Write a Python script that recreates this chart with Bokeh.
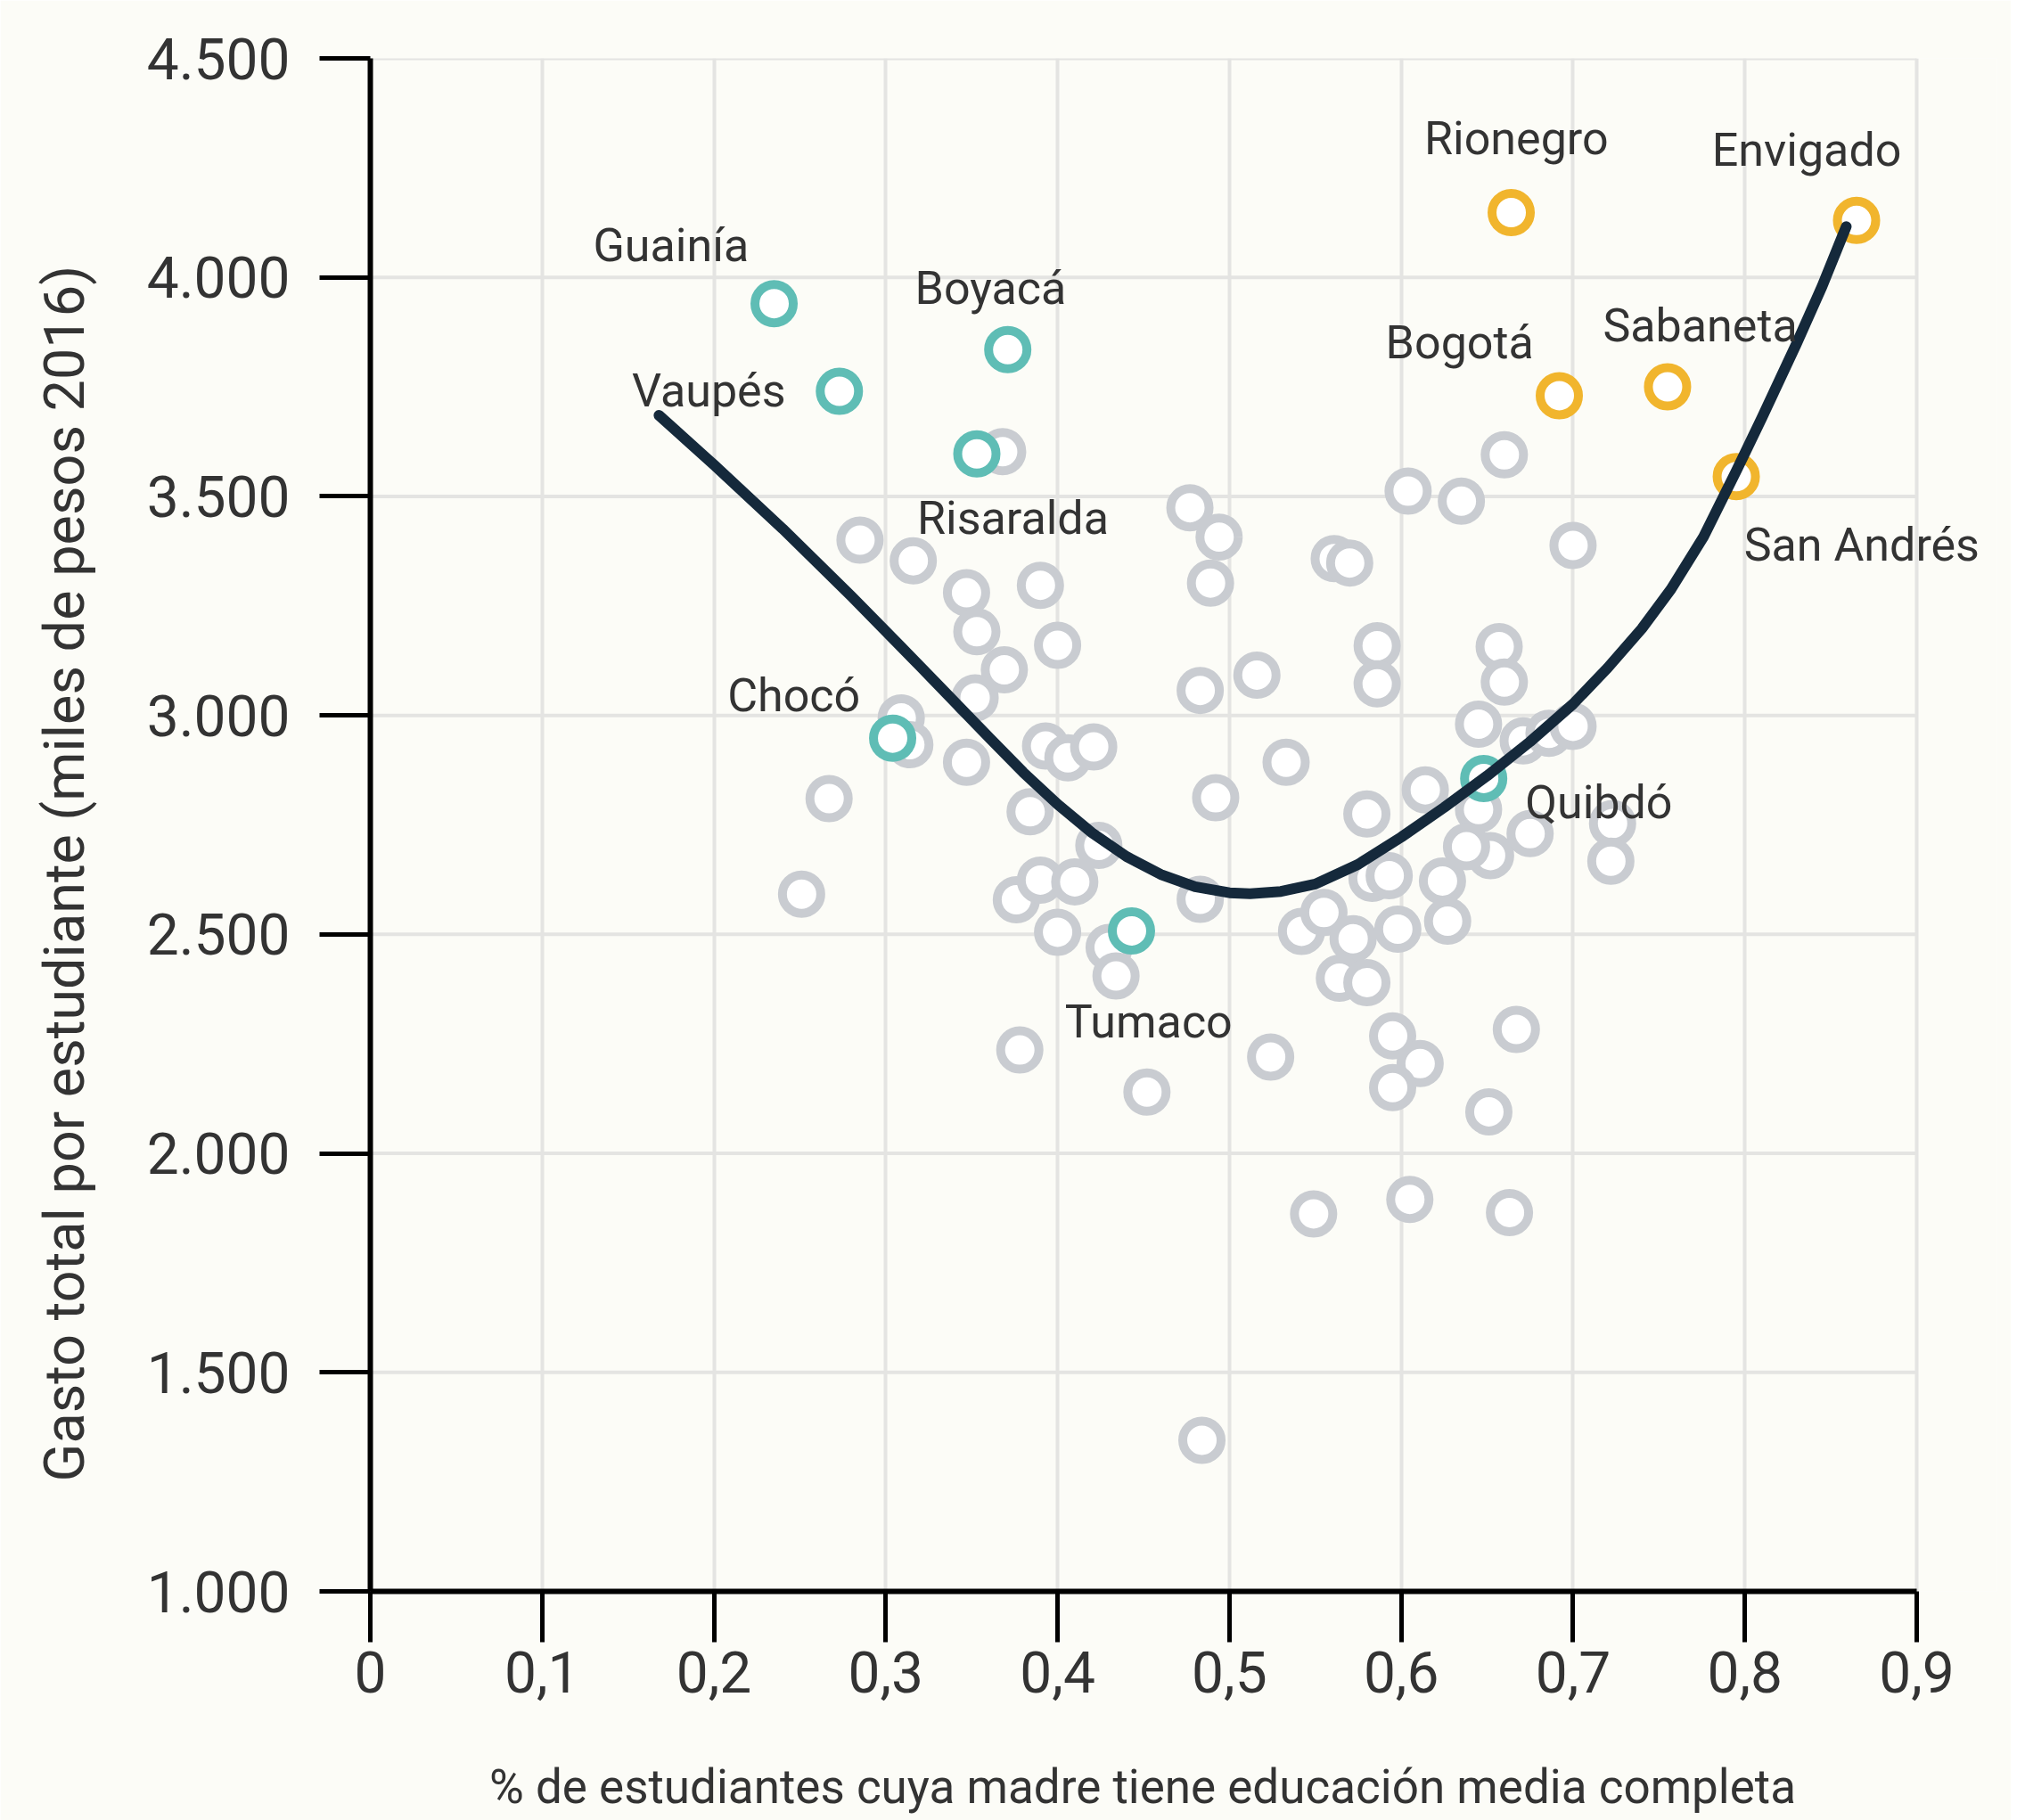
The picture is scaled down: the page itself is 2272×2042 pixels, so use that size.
from bokeh.plotting import figure
from bokeh.models import Range1d, FixedTicker, LabelSet, ColumnDataSource
from bokeh.core.properties import value
from bokeh.embed import file_html
from bokeh.resources import INLINE

# ---------------- data ----------------
gray_x = [0.368, 0.285, 0.316, 0.347, 0.390, 0.353, 0.400, 0.369, 0.352, 0.477, 0.494, 0.489, 0.483, 0.516,
          0.604, 0.635, 0.660, 0.700, 0.561, 0.570, 0.586, 0.586, 0.657, 0.660, 0.645, 0.671, 0.686, 0.700,
          0.309, 0.314, 0.347, 0.393, 0.406, 0.421, 0.533, 0.492, 0.267, 0.384, 0.424, 0.251, 0.376, 0.390,
          0.410, 0.400, 0.483, 0.430, 0.434, 0.378, 0.452, 0.524, 0.484,
          0.542, 0.555, 0.572, 0.564, 0.580, 0.598, 0.580, 0.614, 0.583, 0.593, 0.624, 0.627, 0.645, 0.652,
          0.675, 0.638, 0.723, 0.722, 0.595, 0.611, 0.595, 0.667, 0.651, 0.549, 0.605, 0.663]
gray_y = [3602, 3400, 3353, 3280, 3297, 3191, 3160, 3104, 3040, 3474, 3407, 3302, 3057, 3092,
          3512, 3489, 3595, 3388, 3358, 3348, 3159, 3072, 3157, 3076, 2980, 2942, 2959, 2975,
          2994, 2933, 2893, 2930, 2903, 2928, 2893, 2812, 2810, 2780, 2703, 2592, 2579, 2624,
          2620, 2505, 2580, 2470, 2405, 2236, 2140, 2220, 1345,
          2507, 2550, 2490, 2400, 2390, 2512, 2775, 2830, 2628, 2634, 2622, 2530, 2785, 2680,
          2730, 2700, 2753, 2667, 2268, 2205, 2150, 2283, 2095, 1862, 1895, 1865]

teal_names = ["Guainía", "Vaupés", "Boyacá", "Risaralda", "Chocó", "Tumaco", "Quibdó"]
teal_x = [0.235, 0.273, 0.371, 0.353, 0.304, 0.443, 0.648]
teal_y = [3940, 3740, 3835, 3597, 2948, 2508, 2856]

gold_names = ["Rionegro", "Envigado", "Bogotá", "Sabaneta", "San Andrés"]
gold_x = [0.664, 0.865, 0.692, 0.755, 0.795]
gold_y = [4148, 4130, 3730, 3750, 3545]

curve_x = [0.168, 0.20, 0.24, 0.28, 0.32, 0.36, 0.38, 0.40, 0.42, 0.44, 0.46, 0.48, 0.50, 0.512,
           0.53, 0.55, 0.575, 0.60, 0.625, 0.65, 0.675, 0.70, 0.72, 0.74, 0.757, 0.776, 0.795,
           0.81, 0.83, 0.845, 0.859]
curve_y = [3685, 3572, 3426, 3272, 3112, 2950, 2870, 2797, 2732, 2678, 2637, 2609, 2595, 2593,
           2598, 2615, 2660, 2722, 2790, 2862, 2940, 3026, 3108, 3198, 3288, 3408, 3558,
           3680, 3848, 3980, 4116]

x_ticks = [0, 0.1, 0.2, 0.3, 0.4, 0.5, 0.6, 0.7, 0.8, 0.9]
x_tick_labels = ["0", "0,1", "0,2", "0,3", "0,4", "0,5", "0,6", "0,7", "0,8", "0,9"]
y_ticks = [1000, 1500, 2000, 2500, 3000, 3500, 4000, 4500]
y_tick_labels = ["1.000", "1.500", "2.000", "2.500", "3.000", "3.500", "4.000", "4.500"]

x_title = "% de estudiantes cuya madre tiene educación media completa"
y_title = "Gasto total por estudiante (miles de pesos 2016)"

# ---------------- styling / layout ----------------
BG = "#fcfcf7"
FONT = "Roboto"
TEXT = "#333333"
X_END = 0.9       # last tick / end of grid & axis
X_VIEW = 0.9467   # visible range (room for the San Andrés label)
NBSP = "\u00a0"

p = figure(width=2256, height=2042, output_backend="svg", toolbar_location=None,
           x_range=Range1d(0, X_VIEW), y_range=Range1d(1000, 4500),
           min_border_left=415, min_border_right=16, min_border_top=65, min_border_bottom=257)
p.background_fill_color = BG
p.border_fill_color = BG
p.outline_line_color = None

for ax in (p.xaxis[0], p.yaxis[0]):
    ax.axis_line_width = 6
    ax.axis_line_color = "#000000"
    ax.major_tick_line_width = 5
    ax.major_tick_line_color = "#000000"
    ax.major_tick_out = 57
    ax.major_tick_in = 0
    ax.minor_tick_line_color = None
    ax.major_label_text_font = FONT
    ax.major_label_text_color = TEXT
    ax.axis_label_text_font = FONT
    ax.axis_label_text_font_style = "normal"
    ax.axis_label_text_color = TEXT

p.xaxis.bounds = (0, X_END)
p.xaxis.ticker = FixedTicker(ticks=x_ticks)
p.xaxis.major_label_overrides = dict(zip(x_ticks, x_tick_labels))
p.xaxis.major_label_text_font_size = "64px"
p.xaxis.major_label_standoff = 10
p.xaxis.axis_label = x_title + NBSP * 7
p.xaxis.axis_label_text_font_size = "53px"
p.xaxis.axis_label_standoff = 72

p.yaxis.ticker = FixedTicker(ticks=y_ticks)
p.yaxis.major_label_overrides = dict(zip(y_ticks, y_tick_labels))
p.yaxis.major_label_text_font_size = "64px"
p.yaxis.major_label_standoff = 33
p.yaxis.axis_label = y_title + NBSP * 7
p.yaxis.axis_label_text_font_size = "63px"
p.yaxis.axis_label_standoff = 53

GRID = "#e4e4e2"
p.xgrid.grid_line_color = GRID
p.xgrid.grid_line_width = 4
p.ygrid.grid_line_color = None
p.segment(x0=[0] * len(y_ticks), y0=y_ticks, x1=[X_END] * len(y_ticks), y1=y_ticks,
          line_color=GRID, line_width=4, level="underlay")

SIZE = 43
LW = 10
p.scatter(gray_x, gray_y, size=SIZE, line_width=LW, line_color="#c9ccd1", fill_color="#ffffff")
p.scatter(teal_x, teal_y, size=SIZE, line_width=LW, line_color="#5fbdb5", fill_color="#ffffff")
p.scatter(gold_x, gold_y, size=SIZE, line_width=LW, line_color="#f1b52d", fill_color="#ffffff")
p.line(curve_x, curve_y, line_width=12, line_color="#15293b", line_cap="round", line_join="round")

# point labels
lab_names = teal_names + gold_names
lab_pos = {
    "Guainía": (0.175, 4073), "Vaupés": (0.197, 3741), "Boyacá": (0.361, 3975),
    "Risaralda": (0.374, 3450), "Chocó": (0.2465, 3045), "Tumaco": (0.453, 2300),
    "Quibdó": (0.715, 2801), "Rionegro": (0.667, 4317), "Envigado": (0.836, 4290),
    "Bogotá": (0.634, 3851), "Sabaneta": (0.774, 3889), "San Andrés": (0.868, 3389),
}
src = ColumnDataSource(dict(x=[lab_pos[n][0] for n in lab_names],
                            y=[lab_pos[n][1] for n in lab_names],
                            t=lab_names))
p.add_layout(LabelSet(x="x", y="y", text="t", source=src, text_align="center",
                      text_baseline="middle", text_font=value(FONT), text_font_size=value("52px"),
                      text_color=value(TEXT)))

open("out.html", "w").write(file_html(p, INLINE))
